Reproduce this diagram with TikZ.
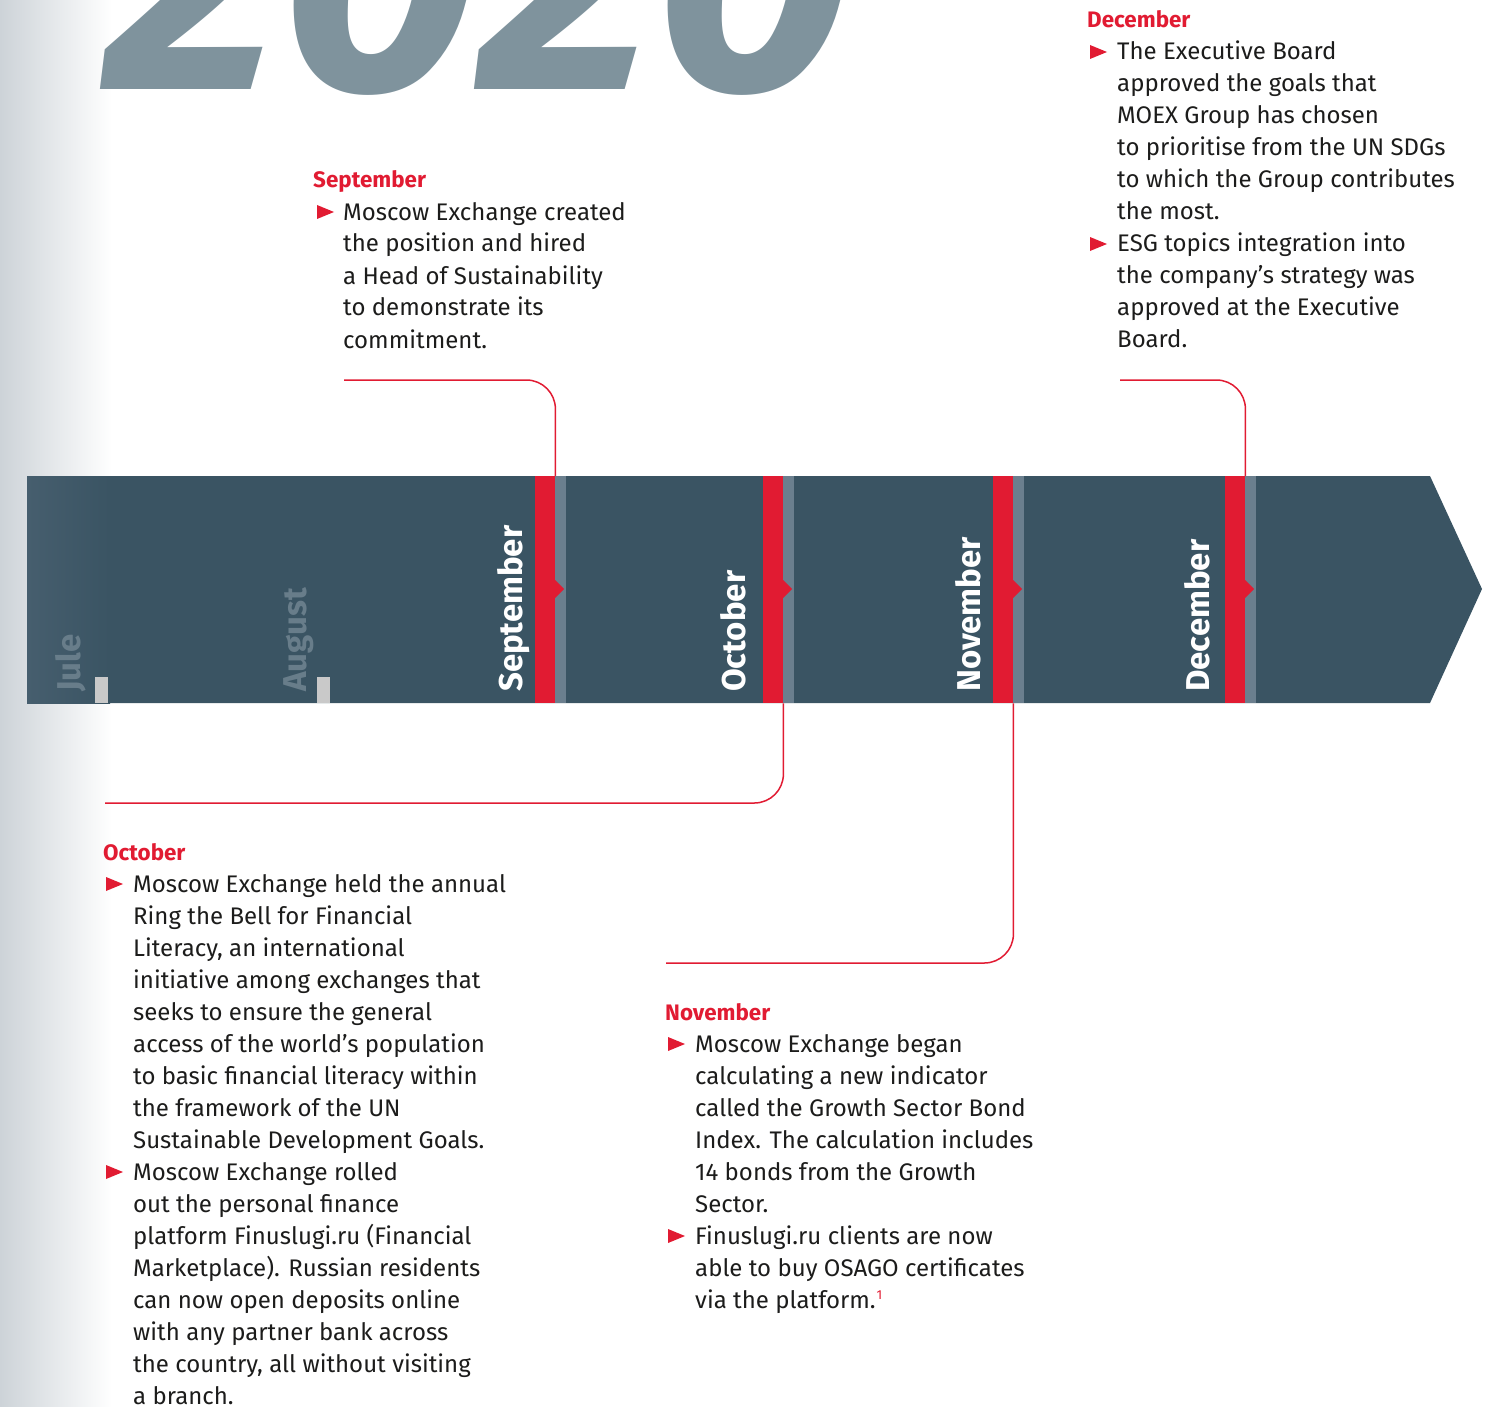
\documentclass[tikz,border=0pt]{standalone}
\usepackage{fontspec}
\setmainfont{Fira Sans}
\definecolor{barc}{RGB}{58,84,99}
\definecolor{barl}{RGB}{70,94,110}
\definecolor{bandc}{RGB}{107,127,142}
\definecolor{mred}{RGB}{225,27,50}
\definecolor{yeargray}{RGB}{127,147,157}
\definecolor{labgray}{RGB}{104,125,138}
\definecolor{tickc}{RGB}{201,201,201}
\definecolor{txt}{RGB}{28,28,27}
\definecolor{gradl}{RGB}{205,211,216}
\newcommand\tline[1]{\hbox{#1}}
\newcommand\tblock[1]{\vtop{\baselineskip=32pt\lineskiplimit=-100pt #1}}
\tikzset{
  body/.style={inner sep=0pt, anchor=base west, text=txt, font=\fontsize{24}{32}\selectfont},
  head/.style={inner sep=0pt, anchor=base west, text=mred, font=\fontsize{22.4}{22}\selectfont\bfseries},
  redband/.style={inner sep=0pt, anchor=north west, fill=mred, minimum width=20pt, minimum height=227pt},
  grayband/.style={inner sep=0pt, anchor=north west, fill=bandc, minimum width=11pt, minimum height=227pt},
  tickbox/.style={inner sep=0pt, anchor=south west, fill=tickc, minimum width=13pt, minimum height=26pt},
  monlab/.style={inner sep=0pt, anchor=base west, rotate=90, text=white, font=\fontsize{33}{33}\selectfont\bfseries},
  oldlab/.style={monlab, text=labgray},
  conn/.style={draw=mred, line width=1.5pt, rounded corners=29pt},
}
\newcommand\bul[2]{\fill[mred] (#1,#2-15) -- (#1+17,#2-8) -- (#1,#2-1) -- cycle;}
\begin{document}
\begin{tikzpicture}[x=1pt,y=-1pt]
\useasboundingbox (0,0) rectangle (1504,1407);
\clip (0,0) rectangle (1504,1407);
% left gradient
\shade[left color=gradl, right color=white] (0,0) rectangle (112,1407);
% year
\node[inner sep=0pt, anchor=base west, text depth=0pt, text=yeargray, font=\fontsize{349}{349}\selectfont\bfseries\itshape] (year) at (103,90) {2020};
% bar
\fill[barc] (27,476) -- (1430,476) -- (1482,589) -- (1430,703) -- (27,703) -- cycle;
\shade[left color=barl, right color=barc] (27,476) rectangle (110,703);
% ticks
\node[tickbox] (julTick) at (95,703) {};
\node[tickbox] (augTick) at (317,703) {};
% bands
\node[redband] (sepBand) at (535,476) {};
\node[grayband] (sepGray) at (555,476) {};
\fill[mred] (555,580) -- (564,589) -- (555,598) -- cycle;
\node[redband] (octBand) at (763,476) {};
\node[grayband] (octGray) at (783,476) {};
\fill[mred] (783,580) -- (792,589) -- (783,598) -- cycle;
\node[redband] (novBand) at (993,476) {};
\node[grayband] (novGray) at (1013,476) {};
\fill[mred] (1013,580) -- (1022,589) -- (1013,598) -- cycle;
\node[redband] (decBand) at (1225,476) {};
\node[grayband] (decGray) at (1245,476) {};
\fill[mred] (1245,580) -- (1254,589) -- (1245,598) -- cycle;
% month labels
\node[oldlab] (julLab) at (80,692) {Jule};
\node[oldlab] (augLab) at (306,692) {August};
\node[monlab] (sepLab) at (522,692) {September};
\node[monlab] (octLab) at (745,692) {October};
\node[monlab] (novLab) at (980,692) {November};
\node[monlab] (decLab) at (1209,692) {December};
% connector ends
\coordinate (sepEnd) at (344,380);
\coordinate (decEnd) at (1120,380);
\coordinate (octEnd) at (105,803);
\coordinate (novEnd) at (666,963);
\draw[conn] (sepEnd) -| (sepBand.north east);
\draw[conn] (decEnd) -| (decBand.north east);
\draw[conn] (octBand.south east) |- (octEnd);
\draw[conn] (novBand.south east) |- (novEnd);
% September text
\node[head] (sepHead) at (313,188) {September};
\bul{317}{220}
\node[body] (sepText) at (343,220) {\tblock{%
\tline{Moscow Exchange created}
\tline{the position and hired}
\tline{a Head of Sustainability}
\tline{to demonstrate its}
\tline{commitment.}}};
% December text
\node[head] (decHead) at (1087,28) {December};
\bul{1090}{60}
\bul{1090}{252}
\node[body] (decText) at (1117,60) {\tblock{%
\tline{The Executive Board}
\tline{approved the goals that}
\tline{MOEX Group has chosen}
\tline{to prioritise from the UN SDGs}
\tline{to which the Group contributes}
\tline{the most.}
\tline{ESG topics integration into}
\tline{the company’s strategy was}
\tline{approved at the Executive}
\tline{Board.}}};
% October text
\node[head] (octHead) at (103,860) {October};
\bul{106}{892}
\bul{106}{1180}
\node[body] (octText) at (133,892) {\tblock{%
\tline{Moscow Exchange held the annual}
\tline{Ring the Bell for Financial}
\tline{Literacy, an international}
\tline{initiative among exchanges that}
\tline{seeks to ensure the general}
\tline{access of the world’s population}
\tline{to basic financial literacy within}
\tline{the framework of the UN}
\tline{Sustainable Development Goals.}
\tline{Moscow Exchange rolled}
\tline{out the personal finance}
\tline{platform Finuslugi.ru (Financial}
\tline{Marketplace). Russian residents}
\tline{can now open deposits online}
\tline{with any partner bank across}
\tline{the country, all without visiting}
\tline{a branch.}}};
% November text
\node[head] (novHead) at (665,1020) {November};
\bul{668}{1052}
\bul{668}{1244}
\node[body] (novText) at (695,1052) {\tblock{%
\tline{Moscow Exchange began}
\tline{calculating a new indicator}
\tline{called the Growth Sector Bond}
\tline{Index. The calculation includes}
\tline{14 bonds from the Growth}
\tline{Sector.}
\tline{Finuslugi.ru clients are now}
\tline{able to buy OSAGO certificates}
\tline{via the platform.\kern1pt\raisebox{9pt}{\color{mred}\fontsize{13}{13}\selectfont 1}}}};
\end{tikzpicture}
\end{document}
